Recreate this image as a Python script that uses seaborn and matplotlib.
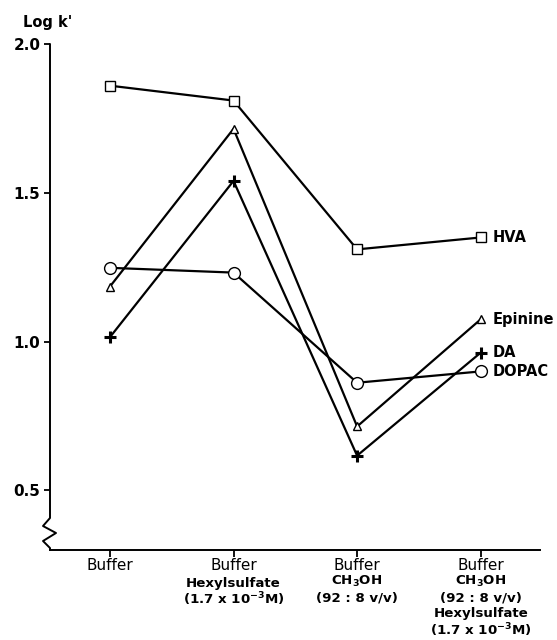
import matplotlib
matplotlib.use("Agg")
import matplotlib.pyplot as plt
import seaborn as sns
import pandas as pd
from matplotlib.lines import Line2D

# ---- data ----
conditions = ["Buffer", "Buffer+Hexylsulfate", "Buffer+CH3OH", "Buffer+CH3OH+Hexylsulfate"]
hva = [1.86, 1.81, 1.31, 1.35]
epinine = [1.185, 1.715, 0.715, 1.075]
da = [1.015, 1.54, 0.617, 0.963]
dopac = [1.248, 1.232, 0.862, 0.90]
series_names = ["HVA", "Epinine", "DA", "DOPAC"]
y_ticks = [0.5, 1.0, 1.5, 2.0]
y_ticklabels = ["0.5", "1.0", "1.5", "2.0"]

sns.set_style("ticks")
plt.rcParams["font.family"] = ["DejaVu Sans"]
plt.rcParams["mathtext.default"] = "bf"
for k in ["text.color", "axes.labelcolor", "xtick.color", "ytick.color", "axes.edgecolor"]:
    plt.rcParams[k] = "black"

fig = plt.figure(figsize=(5.57, 6.4), dpi=100)
ax = fig.add_axes([50 / 557, 1 - 550 / 640, 490 / 557, 506 / 640])

xpos = list(range(len(conditions)))
values = {"HVA": hva, "Epinine": epinine, "DA": da, "DOPAC": dopac}
styles = {
    "HVA": dict(marker="s", markersize=6.5, markerfacecolor="white", markeredgewidth=1.0),
    "Epinine": dict(marker="^", markersize=6.0, markerfacecolor="white", markeredgewidth=1.0),
    "DA": dict(marker="+", markersize=9, markeredgewidth=2.2),
    "DOPAC": dict(marker="o", markersize=8.5, markerfacecolor="white", markeredgewidth=1.0),
}
for name in series_names:
    df = pd.DataFrame({"x": xpos, "y": values[name]})
    sns.lineplot(data=df, x="x", y="y", ax=ax, color="black", linewidth=1.6,
                 markeredgecolor="black", **styles[name])

ax.set_xlim(-0.485, 3.48)
ax.set_ylim(0.3, 2.0)
ax.set_xlabel("")
ax.set_ylabel("")

# axes styling
ax.spines["top"].set_visible(False)
ax.spines["right"].set_visible(False)
ax.spines["left"].set_visible(False)
ax.spines["bottom"].set_linewidth(1.4)

# y axis with break
def px2ax(px, py):
    return ((px - 50) / 490, (550 - py) / 506)
pts = [(50, 44), (50, 518), (43, 526), (56, 533), (43, 541), (50, 548), (50, 550)]
axpts = [px2ax(*p) for p in pts]
ax.add_line(Line2D([p[0] for p in axpts], [p[1] for p in axpts], transform=ax.transAxes,
                   color="black", linewidth=1.4, clip_on=False))

ax.set_yticks(y_ticks)
ax.set_yticklabels(y_ticklabels, fontsize=11, fontweight="bold")
ax.tick_params(axis="y", direction="out", length=4, width=1.3, pad=3)
ax.tick_params(axis="x", direction="out", length=5, width=1.3, pad=1)

ax.set_xticks(xpos)
ax.set_xticklabels(["Buffer"] * 4, fontsize=11)

extra_lines = [
    [],
    [("Hexylsulfate", 583), (r"(1.7 x 10$^{-3}$M)", 599)],
    [(r"CH$_3$OH", 581), ("(92 : 8 v/v)", 598)],
    [(r"CH$_3$OH", 581), ("(92 : 8 v/v)", 598), ("Hexylsulfate", 614), (r"(1.7 x 10$^{-3}$M)", 630)],
]
for i, lines in enumerate(extra_lines):
    for txt, ypix in lines:
        ax.annotate(txt, xy=(i, 0), xycoords=("data", "axes fraction"),
                    xytext=(0, -(ypix - 550)), textcoords="offset pixels",
                    ha="center", va="center", fontsize=9.6, fontweight="bold",
                    annotation_clip=False)

# series labels
for name in series_names:
    ax.annotate(name, xy=(3, values[name][-1]), xytext=(12, 0), textcoords="offset pixels",
                ha="left", va="center", fontsize=10.5, fontweight="bold",
                annotation_clip=False)

fig.text(23 / 557, 1 - 22 / 640, "Log k'", fontsize=10.5, fontweight="bold",
         ha="left", va="center")

fig.savefig("out.png", dpi=100)
